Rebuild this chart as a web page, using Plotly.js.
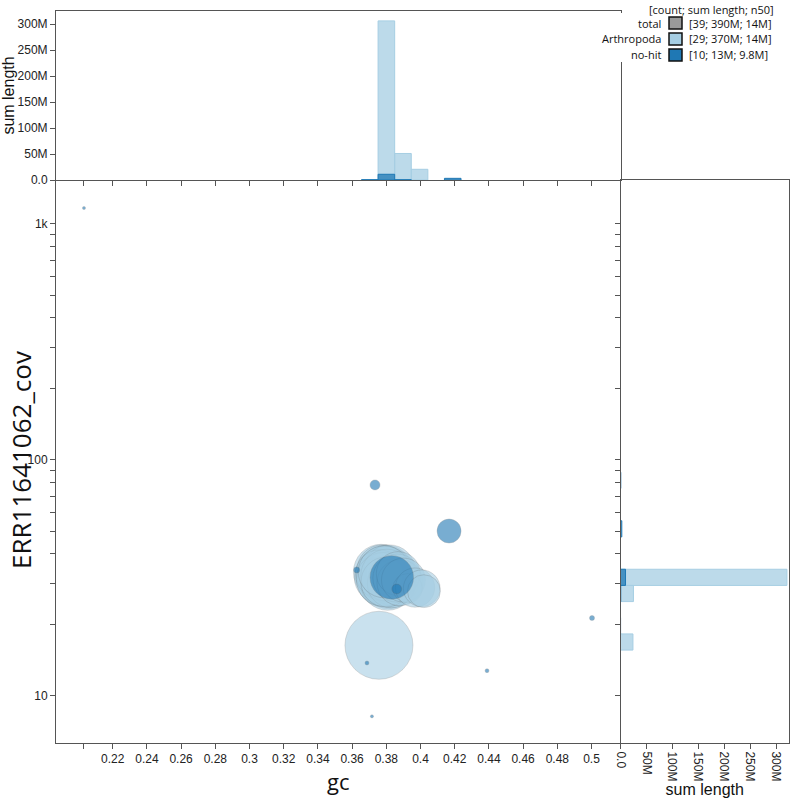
<!DOCTYPE html>
<html>
<head>
<meta charset="utf-8">
<script src="https://cdn.plot.ly/plotly-3.0.1.min.js"></script>
<style>html,body{margin:0;padding:0;background:#fff}#chart{width:800px;height:800px}</style>
</head>
<body>
<div id="chart"></div>
<script>
// ---- contigs (gc, coverage, length in Mb) ----
const arthGc = [0.3757,
  0.3770, 0.3785, 0.3800, 0.3778, 0.3812, 0.3795, 0.3765, 0.3825, 0.3808, 0.3790,
  0.3835, 0.3775, 0.3818, 0.3760, 0.3842, 0.3782, 0.3803, 0.3830, 0.3798, 0.3788,
  0.3862, 0.3880, 0.3870, 0.3900,
  0.3925, 0.3968, 0.4007, 0.4020];
const arthCov = [16.4,
  33.5, 32.0, 33.8, 30.5, 31.0, 34.0, 31.8, 32.8, 30.0, 33.0,
  31.5, 34.2, 33.9, 32.9, 30.8, 31.2, 32.5, 29.9, 30.4, 33.6,
  31.6, 30.2, 33.0, 31.0,
  28.6, 28.8, 28.6, 27.8];
const arthLenM = [24,
  16, 15, 14, 13, 17, 12, 14, 13, 15, 16,
  12, 13, 14, 12, 13, 15, 14, 12, 13, 14,
  12, 11, 10, 10,
  4.5, 8, 7, 5.6];

const noHitGc = [0.2032, 0.3734, 0.4167, 0.3832, 0.3861, 0.3627, 0.3687, 0.4389, 0.5003, 0.3716];
const noHitCov = [1169, 78.4, 50.0, 31.8, 28.4, 34.2, 13.8, 12.8, 21.4, 8.2];
const noHitLenM = [0.05, 0.52, 3.0, 9.8, 0.5, 0.19, 0.08, 0.08, 0.13, 0.05];

// ---- gc histogram: bin lower edges and summed length (Mb) ----
const gcBinSize = 0.0097;
const arthGcBinLo = [0.3752, 0.3849, 0.3946];
const arthGcSumM = [306, 51, 20.6];
const noHitGcBinLo = [0.3655, 0.3752, 0.3849, 0.4140];
const noHitGcSumM = [0.65, 11, 0.5, 3.2];

// ---- coverage histogram: log10 bin lower edges and summed length (Mb) ----
const covBinSizeLog = 0.0685;
const arthCovBinLo = [1.1945, 1.4000, 1.4685];
const arthCovSumM = [24, 25, 321];
const noHitCovBinLo = [1.2630, 1.4000, 1.4685, 1.6740, 1.8795];
const noHitCovSumM = [0.13, 0.5, 9.7, 2.5, 0.52];

// ---- ticks ----
const gcTicks = [0.2032, 0.22, 0.24, 0.26, 0.28, 0.30, 0.32, 0.34, 0.36, 0.38, 0.40, 0.42, 0.44, 0.46, 0.48, 0.50];
const gcTickText = ['', '0.22', '0.24', '0.26', '0.28', '0.3', '0.32', '0.34', '0.36', '0.38', '0.4', '0.42', '0.44', '0.46', '0.48', '0.5'];
const covTicks = [10, 20, 30, 40, 50, 60, 70, 80, 90, 100, 200, 300, 400, 500, 600, 700, 800, 900, 1000];
const covTickText = ['10', '', '', '', '', '', '', '', '', '100', '', '', '', '', '', '', '', '', '1k'];
const lenTicksM = [0, 50, 100, 150, 200, 250, 300];
const lenTickText = ['0.0', '50M', '100M', '150M', '200M', '250M', '300M'];

// ---- legend ----
const legendTitle = '[count; sum length; n50]';
const legendNames = ['total', 'Arthropoda', 'no-hit'];
const legendStats = ['[39; 390M; 14M]', '[29; 370M; 14M]', '[10; 13M; 9.8M]'];
const legendColors = ['#999999', '#a6cee3', '#1f78b4'];

// ---------------- build ----------------
const M = 1e6;
const W = 800, H = 800;
const px = v => v / W;
const py = v => 1 - v / H;

const LIGHT = '#a6cee3', DARK = '#1f78b4';
const sizeref = 12 / (34 * 34); // radius 34px for 24 Mb

function bubbles(gc, cov, len, color) {
  return {
    type: 'scatter', mode: 'markers', x: gc, y: cov, xaxis: 'x', yaxis: 'y',
    marker: {
      size: len, sizemode: 'area', sizeref: sizeref, sizemin: 1.5,
      color: color, opacity: 0.6,
      line: {color: 'rgba(90,90,90,0.55)', width: 0.6}
    },
    hoverinfo: 'x+y'
  };
}

function gcHist(lo, sums, color, fill) {
  return {
    type: 'bar', x: lo.map(v => v + gcBinSize / 2), y: sums.map(v => v * M),
    width: lo.map(() => gcBinSize), xaxis: 'x2', yaxis: 'y2',
    marker: {color: fill, line: {color: color, width: 1}}
  };
}

function covHist(lo, sums, color, fill) {
  const e0 = lo.map(v => Math.pow(10, v));
  const e1 = lo.map(v => Math.pow(10, v + covBinSizeLog));
  return {
    type: 'bar', orientation: 'h', x: sums.map(v => v * M),
    y: e0.map((a, i) => (a + e1[i]) / 2), width: e0.map((a, i) => e1[i] - a),
    xaxis: 'x3', yaxis: 'y3',
    marker: {color: fill, line: {color: color, width: 1}}
  };
}

const data = [
  gcHist(arthGcBinLo, arthGcSumM, LIGHT, 'rgba(166,206,227,0.75)'),
  gcHist(noHitGcBinLo, noHitGcSumM, DARK, 'rgba(31,120,180,0.75)'),
  covHist(arthCovBinLo, arthCovSumM, LIGHT, 'rgba(166,206,227,0.75)'),
  covHist(noHitCovBinLo, noHitCovSumM, DARK, 'rgba(31,120,180,0.75)'),
  bubbles(arthGc, arthCov, arthLenM, LIGHT),
  bubbles(noHitGc, noHitCov, noHitLenM, DARK)
];

const AXC = '#555';
const tickFont = {family: 'Liberation Sans, Arial, sans-serif', size: 12, color: '#222'};
const common = {showgrid: false, zeroline: false, showline: true, linecolor: AXC, linewidth: 1,
  ticks: 'outside', tickcolor: AXC, ticklen: 5, tickwidth: 1, tickfont: tickFont};

const xRange = [0.18684, 0.51696];
const yRange = [0.8008, 3.1864];
const lenRange = [0, 325 * M];

const layout = {
  width: W, height: H, margin: {l: 0, r: 0, t: 0, b: 0, pad: 0},
  paper_bgcolor: '#fff', plot_bgcolor: 'rgba(0,0,0,0)',
  showlegend: false, barmode: 'overlay', hovermode: 'closest',
  font: {family: 'Liberation Sans, Arial, sans-serif', color: '#222'},
  xaxis: Object.assign({}, common, {
    domain: [px(56), px(620.5)], range: xRange, anchor: 'y',
    tickmode: 'array', tickvals: gcTicks, ticktext: gcTickText,
    title: {text: 'gc', font: {family: 'Open Sans', size: 22, color: '#111'}, standoff: 6}
  }),
  yaxis: Object.assign({}, common, {
    domain: [py(743), py(180)], type: 'log', range: yRange, anchor: 'x',
    tickmode: 'array', tickvals: covTicks, ticktext: covTickText
  }),
  xaxis2: Object.assign({}, common, {
    domain: [px(56), px(620.5)], range: xRange, anchor: 'y2', mirror: true,
    tickmode: 'array', tickvals: gcTicks, showticklabels: false
  }),
  yaxis2: Object.assign({}, common, {
    domain: [py(180), py(11)], range: lenRange, anchor: 'x2', mirror: true,
    tickmode: 'array', tickvals: lenTicksM.map(v => v * M), ticktext: lenTickText,
    title: {text: 'sum length', font: {family: 'Liberation Sans, Arial', size: 16, color: '#111'}, standoff: 0}
  }),
  xaxis3: Object.assign({}, common, {
    domain: [px(620.5), px(789)], range: lenRange, anchor: 'y3', mirror: true,
    tickmode: 'array', tickvals: lenTicksM.map(v => v * M), ticktext: lenTickText, tickangle: 90,
    title: {text: 'sum length', font: {family: 'Liberation Sans, Arial', size: 16, color: '#111'}, standoff: 0}
  }),
  yaxis3: Object.assign({}, common, {
    domain: [py(743), py(180)], type: 'log', range: yRange, anchor: 'x3', mirror: true,
    tickmode: 'array', tickvals: covTicks, showticklabels: false
  }),
  shapes: [
    {type: 'rect', xref: 'paper', yref: 'paper', x0: px(590), x1: px(800), y0: py(62), y1: py(13),
     fillcolor: '#fff', line: {width: 0}, layer: 'above'}
  ],
  annotations: [
    {xref: 'paper', yref: 'paper', x: px(21), y: py(460), text: 'ERR11641062_cov', textangle: -90,
     showarrow: false, xanchor: 'center', yanchor: 'middle',
     font: {family: 'Open Sans', size: 26, color: '#111'}}
  ]
};

// legend drawn as text + swatches
const legFont = {family: 'Open Sans', size: 11, color: '#111'};
layout.annotations.push({xref: 'paper', yref: 'paper', x: px(711), y: py(0), text: legendTitle,
  showarrow: false, xanchor: 'center', yanchor: 'top', font: legFont});
legendNames.forEach((name, i) => {
  const cy = 23 + i * 16;
  layout.annotations.push({xref: 'paper', yref: 'paper', x: px(663), y: py(cy), text: name,
    showarrow: false, xanchor: 'right', yanchor: 'middle', font: legFont});
  layout.annotations.push({xref: 'paper', yref: 'paper', x: px(687), y: py(cy), text: legendStats[i],
    showarrow: false, xanchor: 'left', yanchor: 'middle', font: legFont});
  layout.shapes.push({type: 'rect', xref: 'paper', yref: 'paper', x0: px(669), x1: px(682),
    y0: py(cy + 6), y1: py(cy - 6), fillcolor: legendColors[i], line: {color: '#111', width: 1.5}, layer: 'above'});
});

Plotly.newPlot('chart', data, layout, {displayModeBar: false, staticPlot: true});
</script>
</body>
</html>
